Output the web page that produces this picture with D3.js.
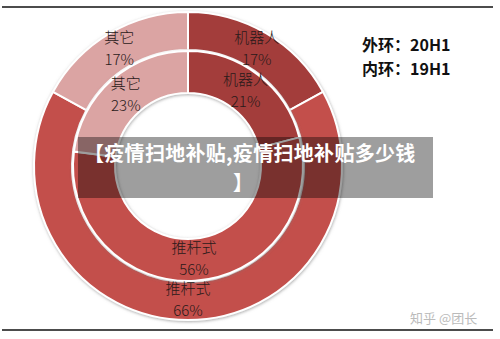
<!DOCTYPE html>
<html><head><meta charset="utf-8">
<script src="https://cdn.jsdelivr.net/npm/d3@7"></script>
<style>html,body{margin:0;padding:0;background:#fff;}svg{display:block;}</style>
</head><body>
<script>
const categories = ["机器人", "推杆式", "其它"];
const outer20H1 = [17, 66, 17];
const inner19H1 = [21, 56, 23];
const legendLines = ["外环：20H1", "内环：19H1"];
const titleLines = ["【疫情扫地补贴,疫情扫地补贴多少钱", "】"];
const watermark = "知乎 @团长";

const W = 500, H = 339;
const svg = d3.select("body").append("svg").attr("width", W).attr("height", H);
const defs = svg.append("defs");
const f = defs.append("filter").attr("id", "sh").attr("x", "-10%").attr("y", "-10%").attr("width", "120%").attr("height", "120%");
f.append("feDropShadow").attr("dx", 0.5).attr("dy", 1).attr("stdDeviation", 1.5).attr("flood-color", "#777").attr("flood-opacity", 0.6);

svg.append("rect").attr("width", W).attr("height", H).attr("fill", "#fff");

// frame lines
svg.append("line").attr("x1", 2).attr("x2", 493).attr("y1", 7).attr("y2", 7).attr("stroke", "#111").attr("stroke-width", 1.5);
svg.append("line").attr("x1", 2).attr("x2", 493).attr("y1", 330).attr("y2", 330).attr("stroke", "#111").attr("stroke-width", 1.5);

const color = d3.scaleOrdinal().domain(categories).range(["#a33c3b", "#c34f4c", "#dba4a3"]);
const cx = 188, cy = 166;
const g = svg.append("g").attr("transform", `translate(${cx},${cy})`);
const pie = d3.pie().sort(null).value(d => d.v);

const rings = [
  {data: outer20H1, r0: 116, r1: 154},
  {data: inner19H1, r0: 73, r1: 115}
];

rings.forEach(ring => {
  const arcs = pie(categories.map((c, i) => ({c, v: ring.data[i]})));
  const arc = d3.arc().innerRadius(ring.r0).outerRadius(ring.r1);
  const rg = g.append("g").attr("filter", "url(#sh)");
  rg.selectAll("path").data(arcs).join("path")
    .attr("d", arc).attr("fill", d => color(d.data.c))
    .attr("stroke", "#fff").attr("stroke-width", 2);
});

rings.forEach(ring => {
  const arcs = pie(categories.map((c, i) => ({c, v: ring.data[i]})));
  const arc = d3.arc().innerRadius(ring.r0).outerRadius(ring.r1);
  const lg = g.append("g").attr("font-family", "'Noto Sans CJK SC', sans-serif").attr("font-size", 15).attr("font-weight", 300).attr("fill", "#2a1a1a").attr("text-anchor", "middle");
  arcs.forEach(d => {
    const [x, y] = arc.centroid(d);
    lg.append("text").attr("x", x).attr("y", y - 7).text(d.data.c);
    lg.append("text").attr("x", x).attr("y", y + 15).text(d.data.v + "%");
  });
});

// legend
const lg2 = svg.append("g").attr("font-family", "'Noto Sans CJK SC', sans-serif").attr("font-size", 16).attr("font-weight", "bold").attr("fill", "#111");
legendLines.forEach((t, i) => lg2.append("text").attr("x", 362).attr("y", 51 + i * 24).text(t));

// title banner
svg.append("rect").attr("x", 78).attr("y", 137).attr("width", 355).attr("height", 61).attr("fill", "rgba(0,0,0,0.38)");
const tg = svg.append("g").attr("font-family", "'Noto Sans CJK SC', sans-serif").attr("font-size", 20).attr("font-weight", "bold").attr("fill", "#fff");
tg.append("text").attr("x", 84).attr("y", 161).attr("letter-spacing", 0.3).text(titleLines[0]);
tg.append("text").attr("x", 243).attr("y", 190).attr("text-anchor", "middle").text(titleLines[1]);

// watermark
svg.append("text").attr("x", 410).attr("y", 323).attr("font-family", "'Noto Sans CJK SC', sans-serif").attr("font-size", 13).attr("fill", "#bbb").text(watermark);
</script>
</body></html>
